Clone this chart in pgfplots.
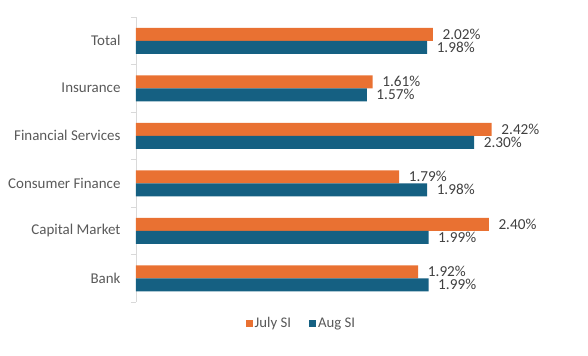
\documentclass[border=0pt]{standalone}
\usepackage{fontspec}
\setmainfont{Carlito}
\usepackage{pgfplots}
\pgfplotsset{compat=1.18}
\definecolor{julyc}{HTML}{E97132}
\definecolor{augc}{HTML}{156082}
\definecolor{axisgray}{HTML}{D9D9D9}
\definecolor{labgray}{HTML}{595959}
\definecolor{datagray}{HTML}{404040}
\begin{document}
\begin{tikzpicture}
\begin{axis}[
 scale only axis,
 width=441bp, height=285bp,
 xmin=0, xmax=3,
 ymin=-0.5, ymax=5.5,
 axis x line=none,
 axis y line*=left,
 y axis line style={draw=axisgray, line width=0.8bp, -},
 ytick={0,...,5},
 yticklabels={Bank,Capital Market,Consumer Finance,Financial Services,Insurance,Total},
 major tick length=0pt,
 minor ytick={-0.5,0.5,...,5.5},
 minor tick length=5bp,
 tick align=outside,
 minor tick style={draw=axisgray, line width=0.8bp},
 yticklabel style={font=\fontsize{15}{17}\selectfont, text=labgray, xshift=-12bp},
 /pgf/number format/assume math mode=true,
 xbar, bar width=13bp,
 point meta=x,
 nodes near coords={\pgfmathprintnumber[fixed,fixed zerofill,precision=2]{\pgfplotspointmeta}\%},
 nodes near coords style={anchor=west, inner sep=0pt, text height=9.7bp, text depth=0pt, xshift=9.5bp, font=\fontsize{15.3}{17}\selectfont, text=datagray},
 legend style={at={(axis description cs:0.375,-0.074)}, anchor=center, draw=none, legend columns=2,
   font=\fontsize{14.8}{17}\selectfont, text=labgray,
   /tikz/every even column/.append style={column sep=16bp}},
 legend image code/.code={\fill[#1] (0bp,-3.5bp) rectangle (7bp,3.5bp);},
]
\coordinate (O) at (rel axis cs:0,0);
\addplot[fill=julyc, draw=none, bar shift=6.5bp] coordinates {(1.92,0) (2.40,1) (1.79,2) (2.42,3) (1.61,4) (2.02,5)};
\addlegendentry{July SI}
\addplot[fill=augc, draw=none, bar shift=-6.5bp] coordinates {(1.99,0) (1.99,1) (1.98,2) (2.30,3) (1.57,4) (1.98,5)};
\addlegendentry{Aug SI}
\end{axis}
\path (O) ++(-136bp,-54bp) rectangle ++(588bp,356bp);
\end{tikzpicture}
\end{document}
